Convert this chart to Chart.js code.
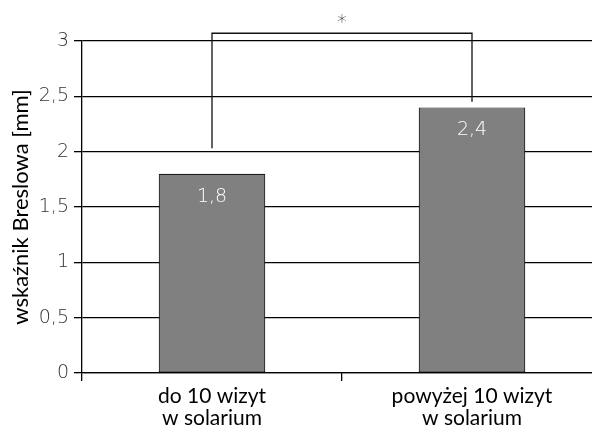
<!DOCTYPE html>
<html lang="pl">
<head>
    <meta charset="UTF-8">
    <title>Breslow</title>
    <style>
        html, body { margin: 0; padding: 0; background: #fff; overflow: hidden; }
    </style>
</head>
<body>

<script src="https://cdn.jsdelivr.net/npm/chart.js"></script>

<canvas id="mycanvas" width="602" height="426"></canvas>

<script>
    // dane z wykresu
    const kategorie = [["do 10 wizyt", "w solarium"], ["powyżej 10 wizyt", "w solarium"]];
    const wartosci = [1.8, 2.4];
    const etykiety = ["1,8", "2,4"];
    const osY = ["0", "0,5", "1", "1,5", "2", "2,5", "3"];
    // klamra istotnosci: [kategoria, dolny koniec] i wysokosc gornej belki
    const klamraLewa = [0, 2.03];
    const klamraPrawa = [1, 2.45];
    const klamraGora = 3.07;
    const gwiazdka = "*";

    const FONT = "Lato, 'Open Sans', sans-serif";
    const CYFRY = "'DejaVu Sans', sans-serif";

    // napisy w slupkach + klamra z gwiazdka
    const dodatki = {
        id: "dodatki",
        afterDraw(chart) {
            const ctx = chart.ctx;
            const x = chart.scales.x, y = chart.scales.y;
            ctx.save();
            ctx.font = "200 19px " + CYFRY;
            ctx.fillStyle = "#fff";
            ctx.textAlign = "center";
            ctx.textBaseline = "middle";
            for (let i = 0; i < wartosci.length; i++) {
                ctx.fillText(etykiety[i], x.getPixelForValue(i), y.getPixelForValue(wartosci[i]) + 23);
            }
            const xl = x.getPixelForValue(klamraLewa[0]);
            const xr = x.getPixelForValue(klamraPrawa[0]);
            const yt = y.getPixelForValue(klamraGora);
            ctx.strokeStyle = "#111";
            ctx.lineWidth = 1.3;
            ctx.beginPath();
            ctx.moveTo(xl, y.getPixelForValue(klamraLewa[1]));
            ctx.lineTo(xl, yt);
            ctx.lineTo(xr, yt);
            ctx.lineTo(xr, y.getPixelForValue(klamraPrawa[1]));
            ctx.stroke();
            ctx.fillStyle = "#333";
            ctx.font = "200 20px " + CYFRY;
            ctx.fillText(gwiazdka, (xl + xr) / 2, yt - 10);
            ctx.restore();
        }
    };

    new Chart(document.getElementById("mycanvas"), {
        type: "bar",
        data: {
            labels: kategorie,
            datasets: [{
                data: wartosci,
                backgroundColor: "#808080",
                borderColor: "#1a1a1a",
                borderWidth: 1.2,
                borderSkipped: false,
                barPercentage: 0.41,
                categoryPercentage: 1
            }]
        },
        options: {
            responsive: false,
            animation: false,
            layout: { padding: { top: 41, left: 0, right: 0, bottom: 0 } },
            plugins: { legend: { display: false }, tooltip: { enabled: false } },
            scales: {
                x: {
                    grid: { drawOnChartArea: false, drawTicks: true, tickLength: 8, color: "#000", lineWidth: 1.3 },
                    border: { color: "#000", width: 1.3 },
                    ticks: { color: "#000", font: { family: FONT, size: 21, lineHeight: 1.02 }, padding: 5, maxRotation: 0 },
                    afterFit(s) { s.height = 53; }
                },
                y: {
                    min: 0, max: 3,
                    grid: { color: "#000", tickLength: 8, lineWidth: 1.3 },
                    border: { color: "#000", width: 1.3 },
                    ticks: {
                        stepSize: 0.5,
                        color: "#333",
                        padding: 5,
                        font: { family: CYFRY, size: 19, weight: 200 },
                        callback: (v) => osY[Math.round(v * 2)]
                    },
                    title: {
                        display: true,
                        text: "wskaźnik Breslowa [mm]",
                        color: "#000",
                        font: { family: FONT, size: 22 },
                        padding: { top: 8, bottom: 0 }
                    },
                    afterFit(s) { s.width = 82; }
                }
            }
        },
        plugins: [dodatki]
    });
</script>

</body>
</html>
